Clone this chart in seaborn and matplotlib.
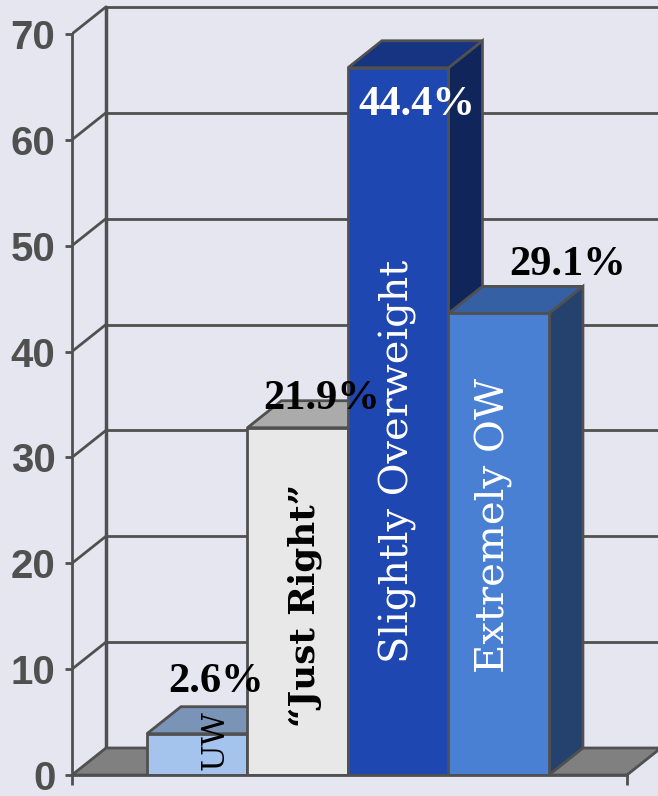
import matplotlib
matplotlib.use("Agg")
import matplotlib.pyplot as plt
from matplotlib.patches import Polygon
import seaborn as sns

# data
categories = ["UW", "\u201cJust Right\u201d", "Slightly Overweight", "Extremely OW"]
heights = [3.9, 32.8, 66.8, 43.6]
pct_labels = ["2.6%", "21.9%", "44.4%", "29.1%"]
yticks = [0, 10, 20, 30, 40, 50, 60, 70]

front_colors = ["#A4C4EE", "#E8E8E8", "#1E47B1", "#4A80D4"]
top_colors = ["#7A94B8", "#ABABAB", "#163481", "#3660A4"]
side_colors = ["#5A6E8C", "#8A8A8A", "#10265A", "#25416E"]

bg = "#E6E6F0"
line_c = "#505050"

# fake 3d depth (data units)
dx, dy = 0.338, 2.55
xmin, xmax = -1.246, 4.585
floor_right = 4.276
ymax = 73.2

sns.set_style("white")
fig = plt.figure(figsize=(6.58, 7.96), dpi=100, facecolor=bg)
ax = fig.add_axes([72 / 658, 21 / 796, (658 - 72) / 658, 775 / 796])
ax.set_facecolor(bg)

sns.barplot(x=categories, y=heights, hue=categories, palette=front_colors,
            saturation=1, width=1.0, legend=False, edgecolor=line_c,
            linewidth=2, ax=ax)

ax.set_xlim(xmin, xmax)
ax.set_ylim(0, ymax)

# back wall + side wall lines
for v in yticks[1:]:
    ax.plot([xmin + dx, xmax], [v + dy, v + dy], color=line_c, lw=2, zorder=1)
    ax.plot([xmin, xmin + dx], [v, v + dy], color=line_c, lw=2, zorder=1)
ax.plot([xmin + dx, xmin + dx], [dy, yticks[-1] + dy], color=line_c, lw=2.5, zorder=1)

# floor
floor = Polygon([(xmin, 0), (floor_right, 0), (floor_right + dx, dy), (xmin + dx, dy)],
                closed=True, facecolor="#808080", edgecolor=line_c, lw=2, zorder=2)
ax.add_patch(floor)

# 3d tops and sides from the seaborn bars
for i, p in enumerate(ax.patches[:len(categories)]):
    x0 = p.get_x()
    w = p.get_width()
    h = p.get_height()
    p.set_zorder(4 + 2 * i)
    top = Polygon([(x0, h), (x0 + w, h), (x0 + w + dx, h + dy), (x0 + dx, h + dy)],
                  closed=True, facecolor=top_colors[i], edgecolor=line_c, lw=2,
                  zorder=3 + 2 * i)
    side = Polygon([(x0 + w, 0), (x0 + w + dx, dy), (x0 + w + dx, h + dy), (x0 + w, h)],
                   closed=True, facecolor=side_colors[i], edgecolor=line_c, lw=2,
                   zorder=3 + 2 * i)
    ax.add_patch(side)
    ax.add_patch(top)

# spines / ticks
for s in ["top", "right"]:
    ax.spines[s].set_visible(False)
ax.spines["left"].set_bounds(0, 70)
ax.spines["left"].set_color(line_c)
ax.spines["left"].set_linewidth(2)
ax.spines["left"].set_zorder(20)
ax.spines["bottom"].set_bounds(xmin, floor_right)
ax.spines["bottom"].set_color(line_c)
ax.spines["bottom"].set_linewidth(2)
ax.spines["bottom"].set_zorder(20)

ax.set_yticks(yticks)
ax.set_yticklabels([str(t) for t in yticks], fontfamily="Liberation Sans",
                   fontweight="bold", fontsize=29, color=line_c)
ax.tick_params(axis="y", direction="out", length=5, width=2, color=line_c, pad=7, left=True)
ax.set_xticks([xmin, floor_right])
ax.set_xticklabels([])
ax.tick_params(axis="x", direction="out", length=7, width=2, color=line_c, bottom=True)
ax.set_xlabel("")
ax.set_ylabel("")

# value labels
pct_pos = [(0.19, 7.8), (1.24, 34.6), (2.19, 62.3), (3.69, 47.2)]
pct_col = ["black", "black", "white", "black"]
for (px, py), t, c in zip(pct_pos, pct_labels, pct_col):
    ax.text(px, py, t, ha="center", va="baseline", fontfamily="Liberation Serif",
            fontweight="bold", fontsize=30.5, color=c, zorder=30)

# category names inside the bars
name_pos = [(0.18, 3.3), (1.07, 16.0), (2.0, 29.6), (2.95, 23.6)]
name_size = [23, 25.7, 28.7, 28.9]
name_col = ["black", "black", "white", "white"]
name_wt = ["normal", "bold", "normal", "normal"]
for (px, py), t, s, c, wt in zip(name_pos, categories, name_size, name_col, name_wt):
    ax.text(px, py, t, ha="center", va="center", rotation=90, fontfamily="DejaVu Serif",
            fontsize=s, color=c, fontweight=wt, zorder=30)

fig.savefig("out.png", dpi=100, facecolor=bg)
